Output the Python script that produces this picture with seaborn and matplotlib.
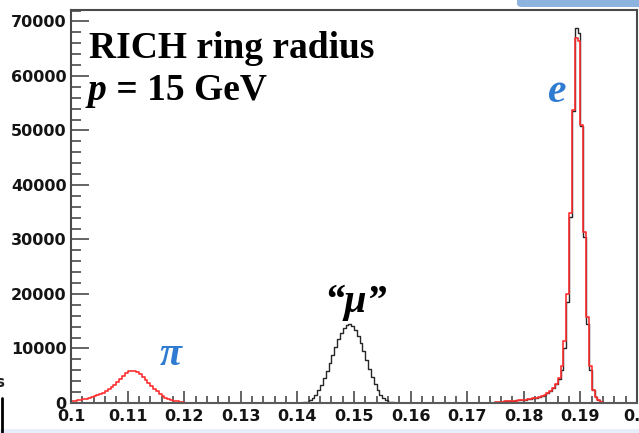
import numpy as np
import pandas as pd
import matplotlib
matplotlib.use("Agg")
import matplotlib.pyplot as plt
import seaborn as sns
from matplotlib.patches import FancyBboxPatch, Rectangle
from matplotlib.lines import Line2D

# ---- histogram binning -------------------------------------------------
bin_width = 0.0005
x_min, x_max = 0.10, 0.20
y_max = 72100

# ---- entries per bin (each list starts at the given lower bin edge) -----
pion_start = 0.1000
pion_counts = [400, 450, 500, 600, 700, 800, 950, 1100, 1250, 1400,
               1600, 1850, 2150, 2500, 2900, 3350, 3850, 4400, 4950, 5450,
               5800, 5950, 5900, 5650, 5250, 4800, 4300, 3750, 3200, 2650,
               2150, 1700, 1300, 1000, 750, 550, 400, 280, 180, 110,
               60, 30, 15]

muon_start = 0.1410
muon_counts = [100, 250, 500, 900, 1500, 2300, 3300, 4500, 5900, 7300,
               8800, 10300, 11700, 12900, 13800, 14300, 14500, 14100, 13400, 12300,
               11000, 9500, 7900, 6300, 4800, 3500, 2400, 1500, 900, 500,
               250, 100, 50]

electron_start = 0.1750
electron_red = [200, 220, 250, 280, 320, 360, 400, 450, 500, 560,
                630, 700, 800, 900, 1000, 1150, 1300, 1500, 1800, 2200,
                2800, 3500, 4600, 6800, 11300, 20000, 34900, 53800, 67000, 66500,
                51000, 31400, 15800, 6700, 2400, 1100, 500, 200, 80, 30]
electron_black = [200, 230, 250, 290, 320, 370, 400, 460, 510, 560,
                  640, 710, 790, 900, 1000, 1150, 1300, 1550, 1850, 2150,
                  2750, 3400, 4400, 6000, 10000, 18500, 34200, 53500, 68800, 67800,
                  50800, 30500, 14500, 6000, 2400, 1150, 500, 200, 80, 30]

x_ticks = [0.10, 0.11, 0.12, 0.13, 0.14, 0.15, 0.16, 0.17, 0.18, 0.19, 0.20]
x_tick_labels = ["0.1", "0.11", "0.12", "0.13", "0.14", "0.15",
                 "0.16", "0.17", "0.18", "0.19", "0.2"]
y_ticks = [0, 10000, 20000, 30000, 40000, 50000, 60000, 70000]
y_tick_labels = ["0", "10000", "20000", "30000", "40000", "50000", "60000", "70000"]

# ---- assemble full histograms --------------------------------------------
n_bins = int(round((x_max - x_min) / bin_width))
centers = x_min + (np.arange(n_bins) + 0.5) * bin_width


def fill_bins(start, counts, target):
    i0 = int(round((start - x_min) / bin_width))
    target[i0:i0 + len(counts)] += np.asarray(counts, dtype=float)


red_hist = np.zeros(n_bins)
fill_bins(pion_start, pion_counts, red_hist)
fill_bins(electron_start, electron_red, red_hist)

black_hist = np.zeros(n_bins)
fill_bins(muon_start, muon_counts, black_hist)
fill_bins(electron_start, electron_black, black_hist)

df = pd.DataFrame({
    "radius": np.concatenate([centers, centers]),
    "entries": np.concatenate([black_hist, red_hist]),
    "sample": ["black"] * n_bins + ["red"] * n_bins,
})

# ---- figure ------------------------------------------------------------
sns.set_style("white")
plt.rcParams["font.family"] = ["DejaVu Sans"]
plt.rcParams["text.color"] = "black"

W, H = 639, 433
fig = plt.figure(figsize=(W / 100, H / 100), dpi=100)
fig.patch.set_facecolor("white")


def fx(px):
    return px / W


def fy(py):
    return 1 - py / H


ax_left, ax_right, ax_top, ax_bottom = 71, 637, 10, 403
ax = fig.add_axes([fx(ax_left), fy(ax_bottom),
                   (ax_right - ax_left) / W, (ax_bottom - ax_top) / H])

sns.histplot(data=df[df["sample"] == "black"], x="radius", weights="entries",
             bins=n_bins, binrange=(x_min, x_max), element="step", fill=False,
             color="#262626", linewidth=1.0, ax=ax)
sns.histplot(data=df[df["sample"] == "red"], x="radius", weights="entries",
             bins=n_bins, binrange=(x_min, x_max), element="step", fill=False,
             color="#ff3030", linewidth=1.2, ax=ax)

ax.set_xlim(x_min, x_max)
ax.set_ylim(0, y_max)
ax.set_xlabel("")
ax.set_ylabel("")

ax.set_xticks(x_ticks)
ax.set_xticklabels(x_tick_labels)
ax.set_yticks(y_ticks)
ax.set_yticklabels(y_tick_labels)
ax.set_xticks(np.round(np.arange(0.102, 0.2, 0.002), 4), minor=True)
ax.set_yticks(np.arange(2000, 72001, 2000), minor=True)

for lab in ax.get_xticklabels() + ax.get_yticklabels():
    lab.set_fontfamily("DejaVu Sans")
    lab.set_fontweight("bold")
    lab.set_fontsize(11.5)
    lab.set_color("#141414")

ax.tick_params(which="both", bottom=True, left=True, top=False, right=False)
ax.tick_params(axis="y", which="major", direction="in", length=13, width=1.1,
               color="#3a3a3a", pad=3)
ax.tick_params(axis="y", which="minor", direction="in", length=7, width=1.1,
               color="#3a3a3a")
ax.tick_params(axis="x", which="major", direction="in", length=8.5, width=1.1,
               color="#3a3a3a", pad=4.5)
ax.tick_params(axis="x", which="minor", direction="in", length=5, width=1.1,
               color="#3a3a3a")

for side in ["left", "right", "top", "bottom"]:
    ax.spines[side].set_visible(True)
    ax.spines[side].set_color("#4a4a4a")
    ax.spines[side].set_linewidth(1.5)
ax.spines["bottom"].set_color("#5a5a5a")

# ---- annotations -------------------------------------------------------
serif = ["Liberation Serif", "DejaVu Serif"]
fig.text(fx(89), fy(58), "RICH ring radius", family=serif, weight="bold",
         size=27, va="baseline", ha="left", color="black")
t_p = fig.text(fx(88), fy(100), "p", family=serif, weight="bold",
               style="italic", size=27, va="baseline", ha="left", color="black")
fig.canvas.draw()
bb = t_p.get_window_extent()
fig.text(bb.x1 / fig.bbox.width, fy(100), " = 15 GeV", family=serif,
         weight="bold", size=27, va="baseline", ha="left", color="black")

fig.text(fx(171), fy(365), "\u03c0", family=serif, weight="bold",
         style="italic", size=29, color="#2e7bd1", va="baseline", ha="center")
fig.text(fx(556), fy(102), "e", family=serif, weight="bold",
         style="italic", size=30, color="#2e7bd1", va="baseline", ha="center")
fig.text(fx(355), fy(312), "\u201c\u03bc\u201d", family=serif, weight="bold",
         style="italic", size=29, color="black", va="baseline", ha="center")

# ---- slide decorations around the plot ---------------------------------
fig.patches.append(FancyBboxPatch((fx(517), fy(7)), fx(140), 20 / H,
                                  boxstyle="round,pad=0,rounding_size=0.008",
                                  transform=fig.transFigure, facecolor="#8db4df",
                                  edgecolor="none", zorder=0))
fig.patches.append(Rectangle((0, 0), 1, 4 / H, transform=fig.transFigure,
                             facecolor="#e6eff9", edgecolor="none", zorder=0))
fig.lines.append(Line2D([fx(1.5), fx(1.5)], [fy(398), fy(433)],
                        transform=fig.transFigure, color="black", linewidth=2))
fig.text(fx(-5), fy(387), "s", family="DejaVu Sans", weight="bold", size=11,
         color="#222222", va="baseline", ha="left")

fig.savefig("out.png", dpi=100)
